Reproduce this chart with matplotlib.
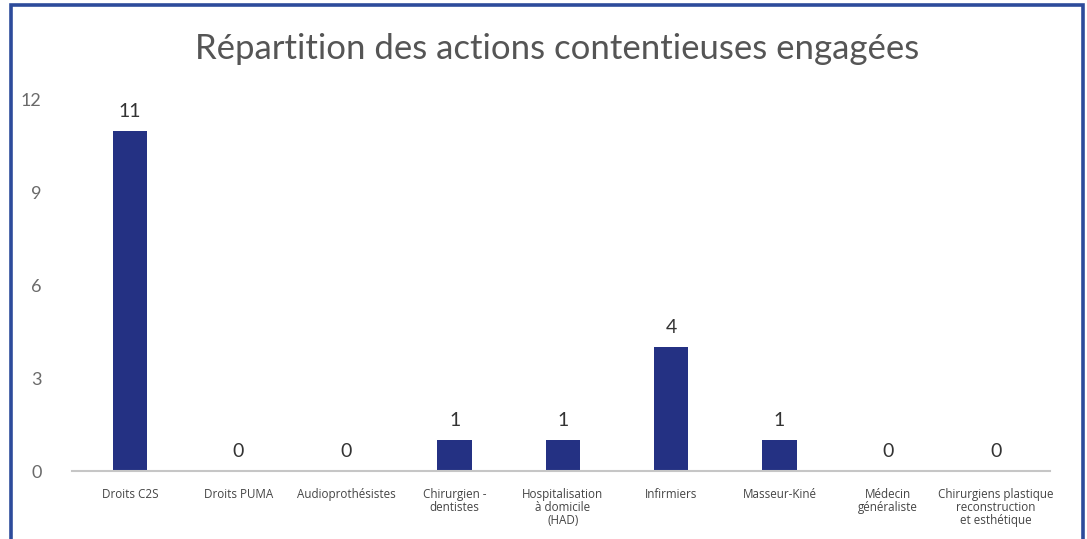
import matplotlib
matplotlib.use("Agg")
import matplotlib.pyplot as plt
from matplotlib.patches import Rectangle

categories = [
    "Droits C2S",
    "Droits PUMA",
    "Audioprothésistes",
    "Chirurgien -\ndentistes",
    "Hospitalisation\nà domicile\n(HAD)",
    "Infirmiers",
    "Masseur-Kiné",
    "Médecin\ngénéraliste",
    "Chirurgiens plastique\nreconstruction\net esthétique",
]
values = [11, 0, 0, 1, 1, 4, 1, 0, 0]
y_ticks = [0, 3, 6, 9, 12]
title = "Répartition des actions contentieuses engagées"

bar_color = "#243183"
frame_color = "#2d4b9b"

fig = plt.figure(figsize=(10.87, 5.39), dpi=100)
fig.patch.set_facecolor("white")

# outer frame (runs past the bottom edge)
fig.patches.append(Rectangle((10.5 / 1087, -0.05), (1083 - 10.5) / 1087, 1.05 - 4.5 / 539,
                             transform=fig.transFigure, fill=False,
                             edgecolor=frame_color, linewidth=2.6, zorder=0))

ax = fig.add_axes([72 / 1087, 1 - 471 / 539, (1050 - 72) / 1087, (471 - 100) / 539])
x = list(range(len(categories)))
ax.bar(x, values, width=0.32, color=bar_color, zorder=2)

ax.set_xlim(-0.535, 8.5)
ax.set_ylim(0, 12)
ax.set_yticks(y_ticks)
ax.set_yticklabels([str(t) for t in y_ticks], fontsize=13, color="#6a6a6a", family="Lato")
ax.tick_params(axis="y", length=0, pad=22)
ax.set_xticks(x)
ax.set_xticklabels(categories, fontsize=8.4, color="#454545", family="Open Sans",
                   linespacing=1.02, va="top")
ax.tick_params(axis="x", length=0, pad=12)

for s in ["top", "right", "left"]:
    ax.spines[s].set_visible(False)
ax.spines["bottom"].set_color("#c6c6c6")
ax.spines["bottom"].set_linewidth(1.5)

for xi, v in zip(x, values):
    ax.annotate(str(v), (xi, v), xytext=(0, 8), textcoords="offset points",
                ha="center", va="bottom", fontsize=14, color="#333333", family="Lato")

fig.text(557 / 1087, 1 - 49 / 539, title, ha="center", va="center",
         fontsize=25, color="#555555", family="Lato")

fig.savefig("out.png", dpi=100, facecolor="white")
